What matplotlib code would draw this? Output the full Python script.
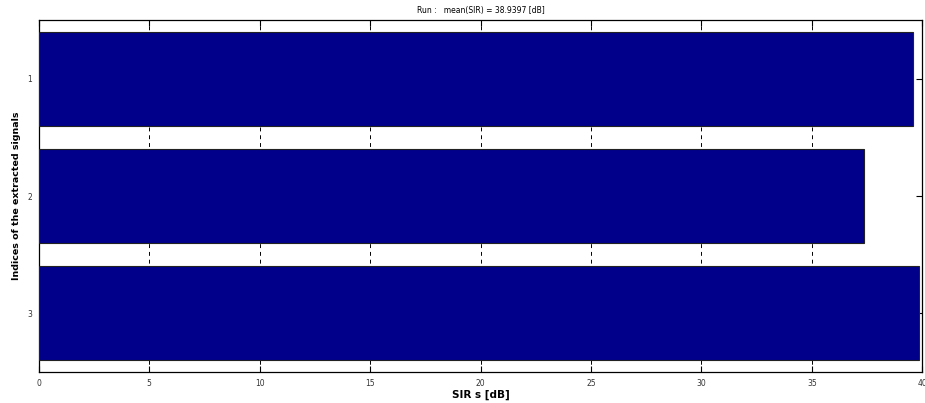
import matplotlib
matplotlib.use("Agg")
import matplotlib.pyplot as plt

indices = [1, 2, 3]
sir_values = [39.60, 37.35, 39.87]
x_ticks = [0, 5, 10, 15, 20, 25, 30, 35, 40]
title = "Run :   mean(SIR) = 38.9397 [dB]"

fig = plt.figure(figsize=(9.25, 4.03), dpi=100)
ax = fig.add_axes([0.042, 0.077, 0.955, 0.873])
ax.set_axisbelow(True)
ax.barh(indices, sir_values, height=0.8, color="#00008B", edgecolor="#222222", linewidth=0.8, zorder=3)
ax.set_xlim(0, 40)
ax.set_ylim(3.5, 0.5)
ax.set_xticks(x_ticks)
ax.set_yticks(indices)
ax.xaxis.grid(True, linestyle=(0, (4, 4)), color="black", linewidth=0.7)
ax.tick_params(direction="in", top=True, right=True, labelsize=5.5, length=4, pad=5,
               labelcolor="#333333")
ax.set_xlabel("SIR s [dB]", fontsize=7.5, fontweight="bold", labelpad=1)
ax.set_ylabel("Indices of the extracted signals", fontsize=6.8, fontweight="bold", labelpad=4)
ax.set_title(title, fontsize=5.5, pad=5)
for s in ax.spines.values():
    s.set_linewidth(0.9)
fig.savefig("out.png", dpi=100)
